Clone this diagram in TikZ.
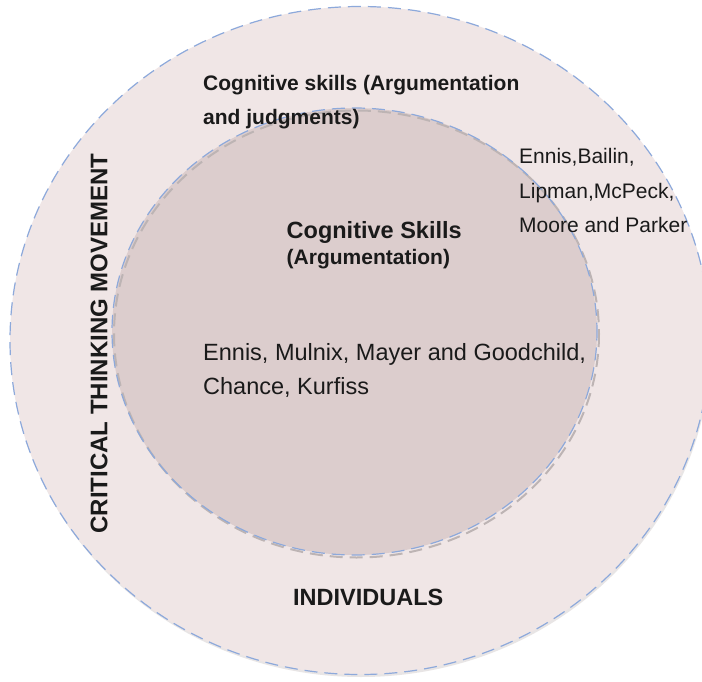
\documentclass[tikz,border=0pt]{standalone}
\usepackage{fontspec}
\setmainfont{Liberation Sans}
\definecolor{outerfill}{HTML}{F0E6E6}
\definecolor{innerfill}{HTML}{DCCDCD}
\definecolor{dashblue}{HTML}{8DA9DB}
\definecolor{shadowgrey}{HTML}{BDB4B4}
\definecolor{ink}{HTML}{1A1A1A}
\begin{document}
\begin{tikzpicture}[x=1pt,y=-1pt,
  bluedash/.style={draw=dashblue, line width=1.2pt, dash pattern=on 13pt off 7pt},
  greydash/.style={draw=shadowgrey, line width=2pt, dash pattern=on 13pt off 7pt},
  lbl/.style={inner sep=0pt, anchor=base west, text=ink},
  fbold/.style={font=\bfseries\fontsize{21}{25}\selectfont},
  fboldbig/.style={font=\bfseries\fontsize{23.5}{28}\selectfont},
  fnames/.style={font=\fontsize{21}{25}\selectfont},
  fnamesbig/.style={font=\fontsize{23.5}{28}\selectfont}]
\useasboundingbox (0,0) rectangle (702,682);
\fill[white] (0,0) rectangle (702,682);
% outer circle
\path[fill=shadowgrey!35] (361,343) ellipse [x radius=350, y radius=334];
\path[fill=outerfill] (360,340.5) ellipse [x radius=350, y radius=334];
\path[bluedash] (360,340.5) ellipse [x radius=350, y radius=334];
% inner circle
\path[fill=innerfill] (354.5,331.5) ellipse [x radius=242.5, y radius=223.5];
\path[greydash] (356.5,334) ellipse [x radius=242.5, y radius=223.5];
\path[bluedash, dash phase=4pt] (354.5,331.5) ellipse [x radius=242.5, y radius=223.5];
% texts
\node[lbl, fbold] (outerA) at (203,91) {Cognitive skills (Argumentation};
\node[lbl, fbold] (outerB) at (203,125) {and judgments)};
\node[lbl, fnames] (rA) at (519,164) {Ennis,Bailin,};
\node[lbl, fnames] (rB) at (519,198.5) {Lipman,McPeck,};
\node[lbl, fnames] (rC) at (519,233) {Moore and Parker};
\node[lbl, fboldbig] (innerA) at (286.5,238.6) {Cognitive Skills};
\node[lbl, fbold] (innerB) at (286.5,264) {(Argumentation)};
\node[lbl, fnamesbig] (iA) at (203,360) {Ennis, Mulnix, Mayer and Goodchild,};
\node[lbl, fnamesbig] (iB) at (203,394) {Chance, Kurfiss};
\node[lbl, fboldbig] (indiv) at (293,605) {INDIVIDUALS};
\node[inner sep=0pt, anchor=base, rotate=90, text=ink, font=\bfseries\fontsize{24}{28}\selectfont] (ctm) at (107.4,343.5) {CRITICAL THINKING MOVEMENT};
\end{tikzpicture}
\end{document}
